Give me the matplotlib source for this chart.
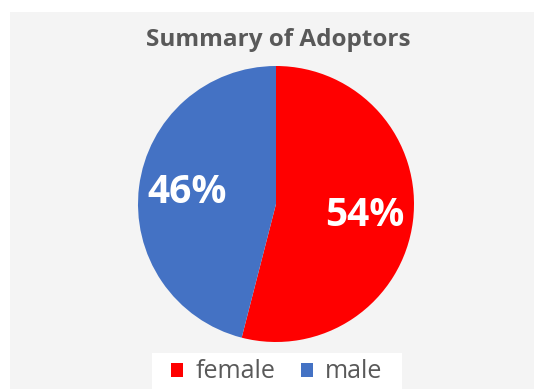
import matplotlib
matplotlib.use("Agg")
import matplotlib.pyplot as plt
from matplotlib.patches import Rectangle

labels = ["female", "male"]
values = [54, 46]
colors = ["#ff0000", "#4472c4"]
title = "Summary of Adoptors"

W, H = 534, 389
fig = plt.figure(figsize=(W/100, H/100), dpi=100)
fig.patch.set_facecolor("white")
fig.patches.append(Rectangle((10/W, 0), 1 - 10/W, 1 - 12/H, transform=fig.transFigure,
                             facecolor="#f4f4f4", edgecolor="none", zorder=-10))
fig.patches.append(Rectangle((152/W, 0), 250/W, (H - 353)/H, transform=fig.transFigure,
                             facecolor="white", edgecolor="none", zorder=-9))

cx, cy, r = 276, 204, 138
ax = fig.add_axes([(cx - r)/W, (H - cy - r)/H, 2*r/W, 2*r/H])
ax.set_facecolor("none")
wedges, texts, autotexts = ax.pie(values, colors=colors, startangle=90, counterclock=False,
                                  autopct="%d%%", pctdistance=0.65,
                                  textprops=dict(color="white", fontsize=28, fontweight="bold",
                                                 family="Open Sans"),
                                  wedgeprops=dict(linewidth=0))
ax.set_xlim(-1, 1)
ax.set_ylim(-1, 1)
ax.set_aspect("equal")

fig.text(278/W, 1 - 40/H, title, ha="center", va="center", fontsize=17.5, fontweight="bold",
         color="#595959", family="Open Sans")

leg = fig.legend(wedges, labels, loc="center", bbox_to_anchor=(277/W, 1 - 372/H), ncol=2,
                 frameon=False, handlelength=0.48, handleheight=0.48,
                 handletextpad=0.5, columnspacing=1.0, borderpad=0.1,
                 prop=dict(family="Open Sans", size=18))
for t in leg.get_texts():
    t.set_color("#595959")

fig.savefig("out.png", dpi=100, facecolor=fig.get_facecolor())
